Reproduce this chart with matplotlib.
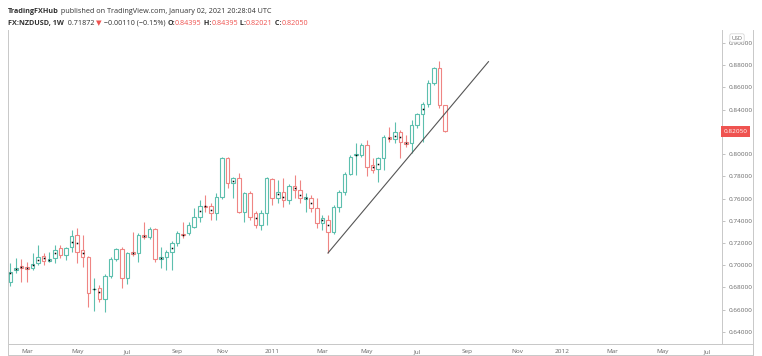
import matplotlib
matplotlib.use("Agg")
import matplotlib.pyplot as plt
from matplotlib.patches import Rectangle
from matplotlib.lines import Line2D
import pandas as pd

# weekly NZDUSD bars, first bar = week of 2010-02-08
first_week = "2010-02-08"
opens = [0.6849, 0.6957, 0.6993, 0.6984, 0.6975, 0.7020, 0.7083, 0.7042, 0.7065, 0.7155,
         0.7092, 0.7164, 0.7272, 0.7137, 0.7074, 0.6786, 0.6795, 0.6696, 0.6903, 0.7056,
         0.7146, 0.6885, 0.7115, 0.7110, 0.7268, 0.7254, 0.7326, 0.7060, 0.7074, 0.7119,
         0.7200, 0.7277, 0.7290, 0.7344, 0.7434, 0.7537, 0.7533, 0.7470, 0.7614, 0.7965,
         0.7740, 0.7785, 0.7479, 0.7650, 0.7470, 0.7362, 0.7470, 0.7776, 0.7605, 0.7659,
         0.7587, 0.7713, 0.7677, 0.7600, 0.7605, 0.7515, 0.7380, 0.7407, 0.7299, 0.7524,
         0.7659, 0.7821, 0.7988, 0.7992, 0.8082, 0.7902, 0.7866, 0.7965, 0.8150, 0.8136,
         0.8199, 0.8105, 0.8100, 0.8262, 0.8361, 0.8451, 0.8640, 0.8775, 0.84395]
highs = [0.7020, 0.7065, 0.7056, 0.7029, 0.7110, 0.7182, 0.7110, 0.7119, 0.7182, 0.7182,
         0.7164, 0.7317, 0.7335, 0.7272, 0.7083, 0.6885, 0.6822, 0.6921, 0.7074, 0.7155,
         0.7164, 0.7119, 0.7299, 0.7290, 0.7389, 0.7344, 0.7335, 0.7164, 0.7137, 0.7218,
         0.7308, 0.7389, 0.7389, 0.7515, 0.7587, 0.7632, 0.7560, 0.7650, 0.7974, 0.7974,
         0.7794, 0.7830, 0.7659, 0.7668, 0.7488, 0.7497, 0.7794, 0.7785, 0.7767, 0.7785,
         0.7731, 0.7812, 0.7767, 0.7650, 0.7632, 0.7605, 0.7452, 0.7452, 0.7542, 0.7677,
         0.7839, 0.7992, 0.8100, 0.8100, 0.8127, 0.7965, 0.7974, 0.8172, 0.8244, 0.8289,
         0.8217, 0.8172, 0.8307, 0.8370, 0.8469, 0.8667, 0.8784, 0.8835, 0.84395]
lows = [0.6813, 0.6930, 0.6849, 0.6849, 0.6957, 0.7002, 0.7002, 0.7029, 0.7020, 0.7065,
        0.7047, 0.7119, 0.7020, 0.6984, 0.6624, 0.6588, 0.6669, 0.6579, 0.6885, 0.7038,
        0.6795, 0.6831, 0.7083, 0.7029, 0.7236, 0.7236, 0.7029, 0.6975, 0.6957, 0.6957,
        0.7173, 0.7245, 0.7272, 0.7335, 0.7389, 0.7479, 0.7407, 0.7407, 0.7596, 0.7695,
        0.7605, 0.7470, 0.7389, 0.7407, 0.7335, 0.7317, 0.7362, 0.7542, 0.7560, 0.7524,
        0.7551, 0.7605, 0.7560, 0.7479, 0.7479, 0.7335, 0.7317, 0.7110, 0.7281, 0.7479,
        0.7632, 0.7812, 0.7812, 0.7974, 0.7803, 0.7830, 0.7749, 0.7857, 0.8109, 0.8100,
        0.7965, 0.8064, 0.8010, 0.8235, 0.8109, 0.8424, 0.8622, 0.8415, 0.82021]
closes = [0.6939, 0.6975, 0.6978, 0.6966, 0.7011, 0.7074, 0.7038, 0.7052, 0.7137, 0.7092,
          0.7155, 0.7263, 0.7119, 0.7074, 0.6750, 0.6790, 0.6696, 0.6903, 0.7056, 0.7146,
          0.6885, 0.7110, 0.7105, 0.7272, 0.7258, 0.7326, 0.7056, 0.7070, 0.7119, 0.7200,
          0.7290, 0.7268, 0.7362, 0.7434, 0.7533, 0.7528, 0.7470, 0.7614, 0.7965, 0.7740,
          0.7785, 0.7479, 0.7650, 0.7434, 0.7362, 0.7470, 0.7785, 0.7605, 0.7659, 0.7587,
          0.7713, 0.7677, 0.7605, 0.7610, 0.7515, 0.7380, 0.7425, 0.7299, 0.7524, 0.7659,
          0.7821, 0.7974, 0.7998, 0.8082, 0.7884, 0.7857, 0.7965, 0.8154, 0.8140, 0.8199,
          0.8109, 0.8095, 0.8262, 0.8361, 0.8451, 0.8640, 0.8775, 0.8440, 0.82050]

# black marker dots drawn on some bars
dot_idx = [0, 1, 2, 3, 4, 5, 6, 7, 8, 11, 12, 13, 15, 16, 22, 24, 27, 29, 31, 34,
           35, 36, 40, 44, 48, 49, 51, 52, 53, 54, 56, 57, 62, 65, 66, 68, 69, 70, 71, 74]
dot_val = [0.6930, 0.6966, 0.6984, 0.6975, 0.7002, 0.7047, 0.7065, 0.7047, 0.7110, 0.7209,
           0.7200, 0.7110, 0.6786, 0.6759, 0.7110, 0.7263, 0.7065, 0.7155, 0.7272, 0.7488,
           0.7533, 0.7497, 0.7758, 0.7425, 0.7641, 0.7614, 0.7695, 0.7632, 0.7605, 0.7560,
           0.7407, 0.7362, 0.7992, 0.7884, 0.7911, 0.8145, 0.8163, 0.8154, 0.8100, 0.8406]

# drawn trend line (bar index, price)
trend_x = [57, 85.8]
trend_y = [0.7110, 0.8832]

price_ticks = [0.64, 0.66, 0.68, 0.70, 0.72, 0.74, 0.76, 0.78, 0.80, 0.82, 0.84, 0.86, 0.88, 0.90]
last_price = 0.82050

UP = "#5dbfae"
DOWN = "#ef8583"
FONT = ["Open Sans", "DejaVu Sans"]
W, H = 762, 356

def fx(px):
    return px / W

def fy(py):
    return 1 - py / H

fig = plt.figure(figsize=(W / 100, H / 100), dpi=100)
ax = fig.add_axes([fx(8), fy(344), fx(722) - fx(8), fy(30) - fy(344)])

bw = 0.63
for i, (o, h, l, c) in enumerate(zip(opens, highs, lows, closes)):
    col = UP if c >= o else DOWN
    ax.vlines(i, l, h, color=col, lw=0.8, zorder=2)
    ax.add_patch(Rectangle((i - bw / 2, min(o, c)), bw, max(abs(c - o), 0.0004),
                           facecolor="white", edgecolor=col, lw=0.8, zorder=3))

ax.plot(dot_idx, dot_val, "s", color="black", ms=1.1, mew=0, zorder=4)
ax.plot(trend_x, trend_y, color="#555555", lw=0.8, zorder=5)

ax.set_xlim(-0.41, 127.7)
ax.set_ylim(0.6291, 0.9117)

# month labels at the first weekly bar of each odd month
dates = pd.date_range(first_week, periods=130, freq="7D")
pos, labels = [], []
for i in range(1, len(dates)):
    d = dates[i]
    if d.month != dates[i - 1].month and d.month % 2 == 1:
        pos.append(i)
        labels.append(str(d.year) if d.month == 1 else d.strftime("%b"))
ax.set_xticks(pos)
ax.set_xticklabels(labels, fontsize=4.6, color="#666666", family=FONT)
ax.tick_params(axis="x", length=0, pad=3.5)

# the 0.82000 label sits under the last price tag
ax.yaxis.tick_right()
ax.set_yticks(price_ticks)
ax.set_yticklabels(["" if abs(p - 0.82) < 1e-9 else f"{p:.5f}" for p in price_ticks],
                   fontsize=4.6, color="#666666", family=FONT)
ax.tick_params(axis="y", length=2.5, width=0.5, color="#aaaaaa", pad=2.5)

for s in ["left", "right", "bottom"]:
    ax.spines[s].set_color("#c8c8c8")
    ax.spines[s].set_linewidth(0.7)
ax.spines["top"].set_visible(False)

# last price tag and currency label
ax.text(1.002, last_price, f"{last_price:.5f}", transform=ax.get_yaxis_transform(),
        ha="left", va="center", fontsize=4.6, color="white", family=FONT, zorder=6,
        bbox=dict(boxstyle="square,pad=0.45", facecolor="#ef5350", edgecolor="none"))
fig.text(fx(737), fy(38), "USD", ha="center", va="center", fontsize=4, color="#666666",
         family=FONT, zorder=7,
         bbox=dict(boxstyle="round,pad=0.3", facecolor="white", edgecolor="#d0d0d0", lw=0.5))

# outer frame
frame = dict(color="#c8c8c8", lw=0.7)
fig.add_artist(Line2D([fx(8), fx(753)], [fy(344), fy(344)], **frame))
fig.add_artist(Line2D([fx(753), fx(753)], [fy(30), fy(355)], **frame))
fig.add_artist(Line2D([fx(8), fx(753)], [fy(355), fy(355)], **frame))
fig.add_artist(Line2D([fx(8), fx(8)], [fy(344), fy(355)], **frame))

# header lines, pieces placed one after another
DARK = "#333333"
RED = "#ef5350"
renderer = fig.canvas.get_renderer()

def header(pieces, y):
    x = fx(8)
    for s, color, weight in pieces:
        t = fig.text(x, fy(y), s, fontsize=5.2, color=color, weight=weight,
                     family=FONT, va="baseline", ha="left")
        x += t.get_window_extent(renderer).width / W

header([("TradingFXHub", DARK, "bold"),
        (" published on TradingView.com, January 02, 2021 20:28:04 UTC", DARK, "normal")], 13)
header([("FX:NZDUSD, 1W", DARK, "bold"),
        ("  0.71872 ", DARK, "normal"),
        ("▼", RED, "normal"),
        (" −0.00110 (−0.15%) ", DARK, "normal"),
        ("O:", DARK, "bold"), ("0.84395", RED, "normal"),
        (" H:", DARK, "bold"), ("0.84395", RED, "normal"),
        (" L:", DARK, "bold"), ("0.82021", RED, "normal"),
        (" C:", DARK, "bold"), ("0.82050", RED, "normal")], 25)

fig.savefig("out.png", dpi=100)
